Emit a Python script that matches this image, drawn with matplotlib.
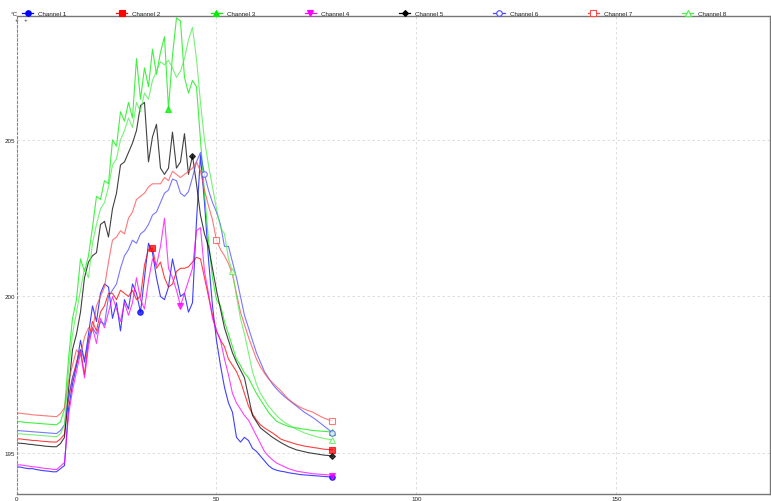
import matplotlib
matplotlib.use("Agg")
import matplotlib.pyplot as plt
from matplotlib.lines import Line2D
import numpy as np

plt.rcParams['font.family'] = ['Liberation Sans', 'DejaVu Sans']

# time axis (one sample per unit)
time = list(range(80))

ch1 = [194.55, 194.55, 194.52, 194.5, 194.5, 194.47, 194.45, 194.43, 194.42, 194.4, 194.4, 194.5,
       194.6, 196.4, 197.2, 197.8, 198.6, 197.9, 198.8, 199.7, 199.2, 200.1, 200.4, 200.3, 199.3,
       199.8, 198.9, 199.9, 199.6, 200.4, 200.1, 199.5, 200.6, 201.7, 201.4, 200.6, 200.0, 199.9,
       200.3, 201.2, 200.6, 200.0, 200.1, 199.5, 199.8, 202.4, 204.5, 203.0, 201.2, 199.7, 198.6,
       197.8, 197.1, 196.6, 196.3, 195.5, 195.35, 195.5, 195.4, 195.15, 195.05, 194.9, 194.75,
       194.6, 194.5, 194.45, 194.42, 194.4, 194.37, 194.35, 194.33, 194.31, 194.3, 194.29, 194.28,
       194.27, 194.26, 194.25, 194.24, 194.23]

ch2 = [195.45, 195.45, 195.43, 195.42, 195.4, 195.4, 195.38, 195.37, 195.36, 195.35, 195.35, 195.45,
       195.6, 196.7, 197.4, 197.9, 198.3, 197.5, 198.6, 199.2, 198.9, 199.5, 199.7, 200.1, 200.1,
       199.9, 200.2, 200.1, 200.0, 200.2, 199.9, 200.0, 201.0, 201.5, 201.55, 200.9, 201.1, 200.6,
       200.3, 200.4, 200.8, 200.9, 200.9, 200.95, 201.1, 201.25, 201.2, 200.6, 200.0, 199.4, 198.9,
       198.6, 198.4, 198.0, 197.8, 197.6, 197.3, 196.9, 196.5, 196.25, 196.05, 195.9, 195.8,
       195.72, 195.64, 195.55, 195.45, 195.4, 195.36, 195.32, 195.28, 195.25, 195.22, 195.2,
       195.18, 195.16, 195.14, 195.12, 195.11, 195.1]

ch3 = [196.0, 196.0, 195.98, 195.97, 195.96, 195.95, 195.94, 195.93, 195.92, 195.91, 195.9, 196.0,
       196.4, 198.0, 199.3, 199.9, 201.2, 200.8, 201.3, 202.2, 203.2, 203.1, 203.7, 203.6, 205.0,
       204.8, 205.9, 205.6, 206.2, 205.7, 207.6, 206.3, 207.3, 206.7, 207.9, 207.1, 207.8, 208.3,
       206.0, 207.7, 208.9, 208.8, 207.0, 206.5, 206.9, 206.7, 205.0, 203.3, 201.8, 200.6, 199.9,
       199.7, 199.2, 198.8, 198.4, 198.0, 197.8, 197.55, 197.4, 197.15, 196.9, 196.7, 196.5,
       196.3, 196.15, 196.02, 195.95, 195.9, 195.85, 195.82, 195.8, 195.78, 195.76, 195.74,
       195.72, 195.71, 195.7, 195.69, 195.68, 195.67]

ch4 = [194.62, 194.62, 194.6, 194.58, 194.56, 194.55, 194.53, 194.51, 194.5, 194.48, 194.47, 194.58,
       194.7, 196.2, 197.0, 197.6, 198.2, 197.4, 198.4, 199.0, 198.5, 199.3, 199.0, 199.5, 200.0,
       199.6, 199.2, 199.8, 199.4, 199.8, 200.6, 199.9, 199.6, 200.5, 201.2, 201.0, 201.6, 202.5,
       200.9, 200.6, 200.2, 199.7, 200.1, 200.5, 200.9, 202.1, 202.2, 200.8, 200.1, 199.3, 198.9,
       198.6, 198.0, 197.5, 196.9, 196.6, 196.4, 196.2, 196.05, 195.8, 195.55, 195.3, 195.05,
       194.9, 194.78, 194.68, 194.62, 194.56, 194.5, 194.46, 194.42, 194.4, 194.38, 194.36,
       194.34, 194.33, 194.32, 194.31, 194.3, 194.28]

ch5 = [195.32, 195.31, 195.3, 195.28, 195.27, 195.25, 195.24, 195.22, 195.21, 195.2, 195.2, 195.3,
       195.5, 197.0, 198.3, 198.8, 199.5, 200.6, 201.1, 201.3, 201.4, 202.3, 202.4, 201.9, 202.8,
       203.3, 204.2, 204.3, 204.6, 204.9, 205.3, 206.1, 206.2, 204.3, 205.1, 205.5, 204.1, 203.9,
       204.1, 205.25, 204.1, 204.3, 205.2, 203.9, 204.5, 203.6, 202.6, 202.0, 201.6, 200.9, 200.2,
       199.6, 199.0, 198.6, 198.2, 197.9, 197.65, 197.4, 196.8, 196.2, 196.0, 195.8, 195.7,
       195.6, 195.5, 195.42, 195.34, 195.27, 195.2, 195.15, 195.1, 195.07, 195.04, 195.01,
       194.99, 194.97, 194.95, 194.93, 194.92, 194.9]

ch6 = [195.72, 195.71, 195.7, 195.69, 195.68, 195.67, 195.66, 195.65, 195.64, 195.63, 195.62, 195.72,
       195.9, 196.8, 197.4, 197.8, 198.3, 198.0, 198.6, 199.0, 198.8, 199.2, 199.1, 200.0, 200.2,
       200.4, 200.9, 201.3, 201.5, 201.8, 201.7, 202.0, 202.1, 202.3, 202.6, 202.7, 203.0, 203.3,
       203.4, 203.75, 203.7, 203.3, 203.2, 203.35, 203.8, 204.3, 204.6, 203.9, 203.4, 203.0, 202.7,
       202.3, 201.6, 201.6, 201.1, 200.6, 200.0, 199.4, 199.0, 198.6, 198.2, 197.9, 197.6,
       197.4, 197.2, 197.05, 196.92, 196.8, 196.7, 196.6, 196.5, 196.4, 196.3, 196.22,
       196.14, 196.05, 195.95, 195.85, 195.75, 195.65]

ch7 = [196.28, 196.27, 196.25, 196.24, 196.22, 196.21, 196.2, 196.19, 196.18, 196.17, 196.16, 196.26,
       196.45, 197.3, 197.8, 198.3, 198.1, 198.7, 199.0, 198.9, 199.7, 200.0, 200.3, 201.1, 201.8,
       201.9, 202.1, 202.0, 202.5, 202.7, 203.1, 203.2, 203.3, 203.5, 203.6, 203.6, 203.6, 203.8,
       203.7, 204.0, 203.9, 203.8, 203.9, 204.0, 204.1, 204.3, 204.0, 203.4, 202.9, 202.45, 201.8,
       201.5, 201.3, 201.05, 200.7, 200.1, 199.5, 199.1, 198.7, 198.35, 198.0, 197.75, 197.55,
       197.37, 197.25, 197.12, 197.0, 196.85, 196.72, 196.62, 196.53, 196.46, 196.4, 196.35,
       196.31, 196.24, 196.17, 196.11, 196.06, 196.02]

ch8 = [195.62, 195.61, 195.6, 195.59, 195.58, 195.57, 195.56, 195.55, 195.54, 195.53, 195.52, 195.62,
       195.9, 197.6, 198.8, 199.5, 200.2, 200.9, 200.6, 201.7, 202.3, 202.8, 203.0, 203.5, 204.2,
       204.4, 205.0, 205.3, 205.7, 205.4, 206.2, 205.9, 206.5, 206.3, 206.9, 207.2, 207.5, 207.4,
       207.55, 207.3, 207.0, 207.2, 207.6, 208.2, 208.6, 207.6, 206.2, 205.0, 204.2, 203.5, 202.8,
       202.2, 202.0, 201.2, 200.8, 200.0, 199.3, 198.8, 198.2, 197.6, 197.2, 196.9, 196.7,
       196.5, 196.35, 196.2, 196.08, 195.98, 195.9, 195.83, 195.76, 195.7, 195.64, 195.6,
       195.56, 195.52, 195.49, 195.46, 195.44, 195.42]

channel_names = ["Channel 1", "Channel 2", "Channel 3", "Channel 4",
                 "Channel 5", "Channel 6", "Channel 7", "Channel 8"]
x_ticks = [0, 50, 100, 150]
y_ticks = [195, 200, 205]

series = [ch1, ch2, ch3, ch4, ch5, ch6, ch7, ch8]
colors = ["#0000ff", "#ff0000", "#00ee00", "#ff00ff", "#000000", "#4a4aff", "#ff4a4a", "#4aee4a"]
markers = ["o", "s", "^", "v", "D", "o", "s", "^"]
filled = [True, True, True, True, True, False, False, False]
mark_idx = [31, 34, 38, 41, 44, 47, 50, 54]

W, H = 771, 502
fig = plt.figure(figsize=(W / 100, H / 100), dpi=100)
ax = fig.add_axes([16.5 / W, (H - 495) / H, (770 - 16.5) / W, (495 - 17) / H])

for vals, col, mk, fl, mi in zip(series, colors, markers, filled, mark_idx):
    ax.plot(time, vals, color=col, lw=0.8, alpha=0.75,
            marker=mk, markevery=[mi, len(vals) - 1], ms=4 if mk != "D" else 3,
            markerfacecolor=col if fl else "white", markeredgecolor=col, markeredgewidth=0.8)

ax.set_xlim(0, 188.4)
ax.set_ylim(193.69, 208.96)
ax.set_xticks(x_ticks)
ax.set_yticks(y_ticks)
ax.tick_params(axis="both", length=0, labelsize=4.5, colors="#222222")
ax.tick_params(axis="x", pad=1.5)
ax.tick_params(axis="y", pad=1)
ax.grid(True, color="#d8d8d8", linestyle=(0, (3, 3)), linewidth=0.6)
ax.set_axisbelow(True)

for side in ("top", "bottom", "right"):
    ax.spines[side].set_color("#777777")
    ax.spines[side].set_linewidth(1.0)
ax.spines["left"].set_color("#888888")
ax.spines["left"].set_linestyle((0, (2, 2)))
ax.spines["left"].set_linewidth(0.8)

# unit label and legend strip above the plot area
fig.text(11 / W, 1 - 14.5 / H, "°C", fontsize=4.5, va="center", ha="left", color="#222222")
fig.text(16.5 / W, 1 - 20 / H, "+", fontsize=4.5, va="center", ha="center", color="#333333")
fig.text(26 / W, 1 - 20 / H, "+", fontsize=4.5, va="center", ha="center", color="#333333")

for i, (name, col, mk, fl) in enumerate(zip(channel_names, colors, markers, filled)):
    x0 = 22 + 94.3 * i
    yy = 1 - 14 / H
    fig.add_artist(Line2D([x0 / W, (x0 + 11) / W], [yy, yy], color=col, lw=0.9,
                          transform=fig.transFigure))
    fig.add_artist(Line2D([(x0 + 5.5) / W], [yy], color=col, marker=mk,
                          ms=4 if mk != "D" else 3,
                          markerfacecolor=col if fl else "white", markeredgecolor=col,
                          markeredgewidth=0.8, transform=fig.transFigure))
    fig.text((x0 + 16) / W, yy, name, fontsize=4.5, va="center", ha="left", color="#222222")

fig.savefig("out.png", dpi=100)
